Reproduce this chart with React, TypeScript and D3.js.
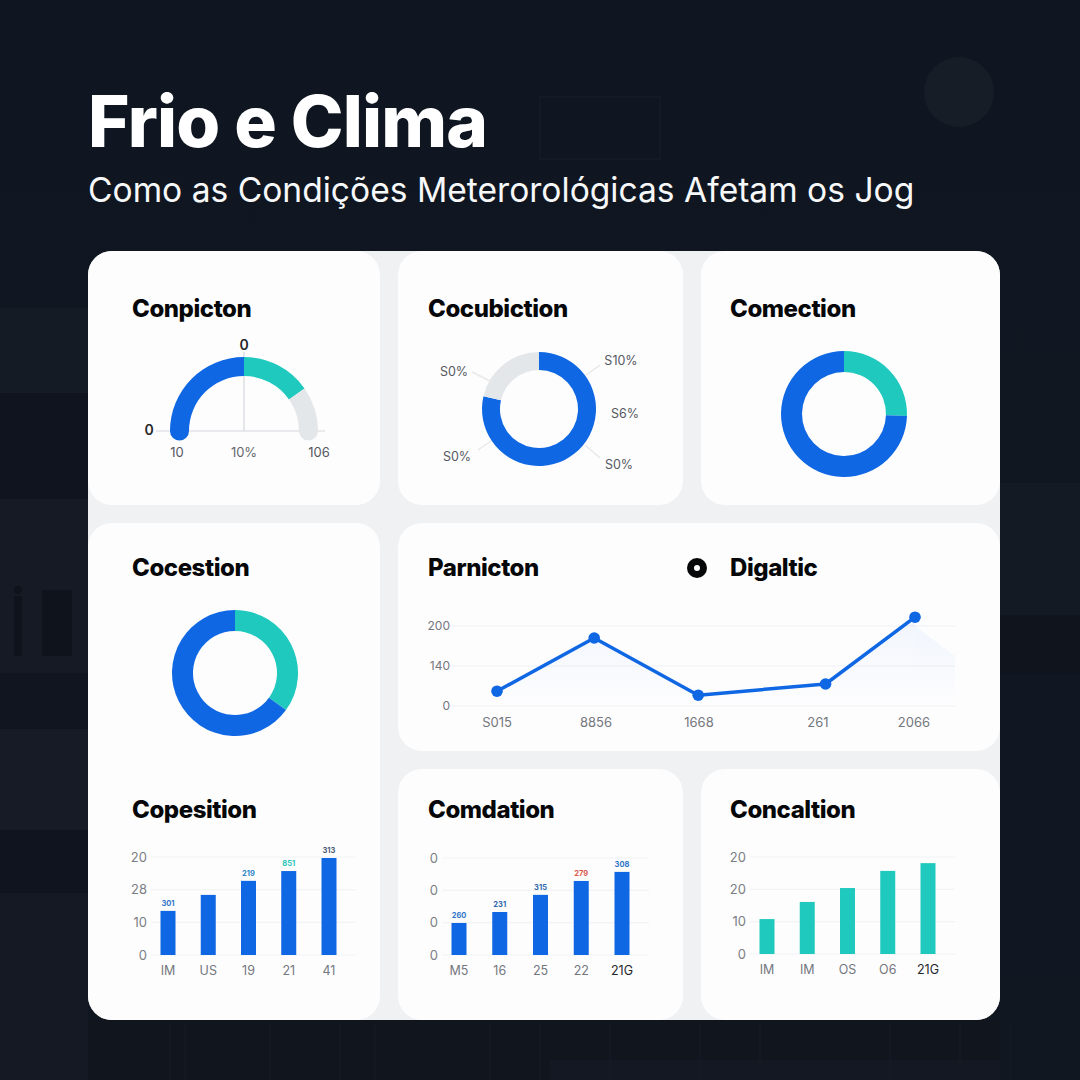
import * as d3 from "d3";

const BLUE = "#0f67e3";
const TEAL = "#1fc9be";
const GREY = "#e3e7ea";
const FONT = "Inter, sans-serif";

const gaugeValues = [50, 30.5, 19.5];
const gaugeColors = [BLUE, TEAL, GREY];

const donutA = [78.6, 21.4];
const donutB = [25.5, 74.5];
const donutC = [35, 65];

const lineLabels = ["S015", "8856", "1668", "261", "2066"];
const lineSteps = [0, 1, 2.07, 3.38, 4.3];
const lineValues = [37, 170, 27, 55, 222];
const lineTicks = [0, 100, 200];
const lineTickLabels = ["0", "140", "200"];

const barTicks = [0, 10, 20, 30];

const bars1Labels = ["IM", "US", "19", "21", "41"];
const bars1Values = [13.5, 18.4, 22.7, 25.7, 29.7];
const bars1Tops = ["301", "", "219", "851", "313"];
const bars1TopColors = ["#2f74c8", "", "#2f86c8", "#2cc4b8", "#4a5a78"];
const bars1Ticks = ["0", "10", "28", "20"];

const bars2Labels = ["M5", "16", "25", "22", "21G"];
const bars2Values = [9.9, 13.3, 18.6, 22.9, 25.7];
const bars2Tops = ["260", "231", "315", "279", "308"];
const bars2TopColors = ["#2f74c8", "#2f66a8", "#2f66a8", "#d8584a", "#2f74c8"];
const bars2Ticks = ["0", "0", "0", "0"];

const bars3Labels = ["IM", "IM", "OS", "O6", "21G"];
const bars3Values = [10.8, 16.1, 20.4, 25.7, 28.1];
const bars3Ticks = ["0", "10", "20", "20"];

const bgBands = [
  [0, 308, 88, 85, "#151b25"],
  [0, 393, 88, 106, "#0f141e"],
  [0, 499, 88, 174, "#151a25"],
  [0, 673, 88, 56, "#10151f"],
  [0, 729, 88, 101, "#161b25"],
  [0, 830, 88, 63, "#0f141e"],
  [0, 893, 88, 187, "#141924"],
  [1000, 483, 80, 132, "#141a24"],
  [1000, 615, 80, 58, "#0f141d"],
  [1000, 673, 80, 300, "#111722"],
  [88, 1020, 912, 60, "#10151e"],
  [550, 1060, 450, 20, "#131822"],
] as [number, number, number, number, string][];

const bgLines = [170, 185, 270, 340, 375, 490, 540, 610, 700, 760, 890, 960, 1010];

function Card({ x, y, w, h }: { x: number; y: number; w: number; h: number }) {
  return <rect x={x} y={y} width={w} height={h} rx={24} fill="#fdfdfe" />;
}

function Title({ x, y, text }: { x: number; y: number; text: string }) {
  return (
    <text x={x} y={y} fontFamily={FONT} fontSize={24} fontWeight={800} fill="#060709" letterSpacing={-0.45}>
      {text}
    </text>
  );
}

function Gauge({ cx, cy }: { cx: number; cy: number }) {
  const angle = d3.scaleLinear().domain([0, 100]).range([-Math.PI / 2, Math.PI / 2]);
  const pie = d3.pie<number>().sort(null).startAngle(angle(0)).endAngle(angle(100));
  const arc = d3.arc<d3.PieArcDatum<number>>().innerRadius(55).outerRadius(74);
  const arcs = pie(gaugeValues);
  return (
    <g transform={`translate(${cx},${cy})`}>
      <line x1={-88} x2={81} y1={0} y2={0} stroke="#d5d8dc" strokeWidth={1.2} />
      <line x1={0} x2={0} y1={-79} y2={0} stroke="#d5d8dc" strokeWidth={1.2} />
      <circle cx={64.5} cy={0} r={9.5} fill={GREY} />
      <circle cx={-64.5} cy={0} r={9.5} fill={BLUE} />
      {arcs.map((d, i) => (
        <path key={i} d={arc(d) || undefined} fill={gaugeColors[i]} />
      ))}
      <g fontFamily={FONT} textAnchor="middle">
        <text x={0} y={-81} fontSize={14} fontWeight={600} fill="#26282c">0</text>
        <text x={-95} y={4} fontSize={14} fontWeight={600} fill="#26282c">0</text>
        <text x={-67} y={26} fontSize={13} fill="#55585e">10</text>
        <text x={0} y={26} fontSize={13} fill="#66696f">10%</text>
        <text x={75} y={26} fontSize={13} fill="#55585e">106</text>
      </g>
    </g>
  );
}

function Donut({ cx, cy, outer, inner, values, colors }: {
  cx: number; cy: number; outer: number; inner: number; values: number[]; colors: string[];
}) {
  const arc = d3.arc<d3.PieArcDatum<number>>().innerRadius(inner).outerRadius(outer);
  const arcs = d3.pie<number>().sort(null)(values);
  return (
    <g transform={`translate(${cx},${cy})`}>
      {arcs.map((d, i) => (
        <path key={i} d={arc(d) || undefined} fill={colors[i]} />
      ))}
    </g>
  );
}

function LineChart() {
  const x = d3.scaleLinear().domain([0, 4.3]).range([497, 915]);
  const y = d3.scaleLinear().domain([0, 200]).range([706, 626]);
  const line = d3.line<number>().x((_, i) => x(lineSteps[i])).y((d) => y(d));
  const area = d3.area<number>().x((_, i) => x(lineSteps[i])).y0(y(0)).y1((d) => y(d));
  return (
    <g fontFamily={FONT}>
      <defs>
        <linearGradient id="lineFill" x1="0" y1="0" x2="0" y2="1">
          <stop offset="0" stopColor={BLUE} stopOpacity={0.05} />
          <stop offset="1" stopColor={BLUE} stopOpacity={0} />
        </linearGradient>
      </defs>
      {lineTicks.map((t, i) => (
        <g key={t}>
          <line x1={450} x2={955} y1={y(t)} y2={y(t)} stroke="#f0f1f3" strokeWidth={1.2} />
          <text x={450} y={y(t) + 4} textAnchor="end" fontSize={12} fill="#74777d">{lineTickLabels[i]}</text>
        </g>
      ))}
      <path d={area(lineValues) || undefined} fill="url(#lineFill)" />
      {/* the shading runs on past the last point and fades out */}
      <path d={`M${x(4.3)},${y(200)} L955,${y(125)} L955,${y(0)} L${x(4.3)},${y(0)} Z`} fill="url(#lineFill)" />
      <path d={line(lineValues) || undefined} fill="none" stroke={BLUE} strokeWidth={3.5} strokeLinejoin="round" />
      {lineValues.map((d, i) => (
        <circle key={i} cx={x(lineSteps[i])} cy={y(d)} r={5.8} fill={BLUE} />
      ))}
      {lineLabels.map((d, i) => (
        <text key={i} x={[497, 596, 699, 818, 914][i]} y={727} textAnchor="middle" fontSize={13} fill="#74777d">{d}</text>
      ))}
    </g>
  );
}

function Bars({ left, right, top, base, axisX, color, labels, values, tickLabels, tops, topColors, darkLast }: {
  left: number; right: number; top: number; base: number; axisX: number; color: string;
  labels: string[]; values: number[]; tickLabels: string[];
  tops?: string[]; topColors?: string[]; darkLast?: boolean;
}) {
  const x = d3.scalePoint<number>().domain(d3.range(values.length)).range([left, right]);
  const y = d3.scaleLinear().domain([0, 30]).range([base, top]);
  const bw = 15;
  return (
    <g fontFamily={FONT}>
      {barTicks.map((t, i) => (
        <g key={t}>
          <line x1={axisX + 4} x2={right + 27} y1={y(t)} y2={y(t)} stroke="#f2f3f5" strokeWidth={1.2} />
          <text x={axisX} y={y(t) + 4.5} textAnchor="end" fontSize={13} fill="#7b7e84">{tickLabels[i]}</text>
        </g>
      ))}
      {values.map((d, i) => (
        <rect key={i} x={(x(i) as number) - bw / 2} y={y(d)} width={bw} height={base - y(d)} fill={color} />
      ))}
      {tops && tops.map((d, i) => (
        <text key={i} x={x(i)} y={y(values[i]) - 5} textAnchor="middle" fontSize={7.5} fontWeight={700} fill={topColors ? topColors[i] : "#333"}>{d}</text>
      ))}
      {labels.map((d, i) => (
        <text key={i} x={x(i)} y={base + 20} textAnchor="middle" fontSize={12.5}
          fill={darkLast && i === labels.length - 1 ? "#25272b" : "#74777d"}>{d}</text>
      ))}
    </g>
  );
}

export default function App() {
  return (
    <svg width={1080} height={1080} style={{ position: "fixed", left: 0, top: 0, display: "block" }}>
      <defs>
        <linearGradient id="bgShade" x1="0" y1="0" x2="0" y2="1">
          <stop offset="0" stopColor="#0f1621" />
          <stop offset="1" stopColor="#111720" />
        </linearGradient>
      </defs>
      <rect width={1080} height={1080} fill="url(#bgShade)" />
      {bgBands.map((b, i) => (
        <rect key={i} x={b[0]} y={b[1]} width={b[2]} height={b[3]} fill={b[4]} />
      ))}
      <g stroke="#171c26" strokeWidth={1}>
        {bgLines.map((d) => (
          <line key={d} x1={d} x2={d} y1={1024} y2={1080} />
        ))}
      </g>
      <circle cx={959} cy={92} r={35} fill="#171d27" />
      <rect x={540} y={97} width={120} height={62} fill="none" stroke="#141a25" strokeWidth={2} />
      <g fill="#0e131c">
        <rect x={14} y={596} width={8} height={60} />
        <circle cx={18} cy={590} r={4} />
        <rect x={42} y={590} width={30} height={66} />
      </g>

      <text x={88} y={147} fontFamily={FONT} fontSize={71} fontWeight={800} fill="#fff" letterSpacing={-0.8}>Frio e Clima</text>
      <text x={88} y={202} fontFamily={FONT} fontSize={33.6} fontWeight={400} fill="#f7f8f9">Como as Condições Meterorológicas Afetam os Jog</text>

      <rect x={88} y={251} width={912} height={769} rx={24} fill="#eff1f3" />
      <Card x={88} y={251} w={292} h={254} />
      <Card x={398} y={251} w={285} h={254} />
      <Card x={701} y={251} w={299} h={254} />
      <Card x={88} y={523} w={292} h={497} />
      <Card x={398} y={523} w={602} h={228} />
      <Card x={398} y={769} w={285} h={251} />
      <Card x={701} y={769} w={299} h={251} />

      <Title x={132} y={317} text="Conpicton" />
      <Title x={428} y={317} text="Cocubiction" />
      <Title x={730} y={317} text="Comection" />
      <Title x={132} y={576} text="Cocestion" />
      <Title x={428} y={576} text="Parnicton" />
      <Title x={730} y={576} text="Digaltic" />
      <Title x={132} y={818} text="Copesition" />
      <Title x={428} y={818} text="Comdation" />
      <Title x={730} y={818} text="Concaltion" />

      <circle cx={697} cy={568} r={6.5} fill="#fff" stroke="#060709" strokeWidth={7} />

      <Gauge cx={244} cy={431} />

      <Donut cx={539} cy={409} outer={57} inner={39} values={donutA} colors={[BLUE, GREY]} />
      <g stroke="#e6e8ea" strokeWidth={1.5}>
        <line x1={586} y1={375} x2={600} y2={365} />
        <line x1={585} y1={445} x2={600} y2={458} />
        <line x1={490} y1={381} x2={472} y2={372} />
        <line x1={491} y1={441} x2={478} y2={450} />
      </g>
      <g fontFamily={FONT} fontSize={12.5} fill="#55585e" textAnchor="middle">
        <text x={621} y={365}>S10%</text>
        <text x={625} y={418}>S6%</text>
        <text x={619} y={469}>S0%</text>
        <text x={454} y={376}>S0%</text>
        <text x={457} y={461}>S0%</text>
      </g>

      <Donut cx={844} cy={414} outer={63} inner={42} values={donutB} colors={[TEAL, BLUE]} />
      <Donut cx={235} cy={673} outer={63} inner={42} values={donutC} colors={[TEAL, BLUE]} />

      <LineChart />

      <Bars left={168} right={329} top={857} base={955} axisX={147} color={BLUE}
        labels={bars1Labels} values={bars1Values} tickLabels={bars1Ticks} tops={bars1Tops} topColors={bars1TopColors} />
      <Bars left={459} right={622} top={858} base={955} axisX={438} color={BLUE}
        labels={bars2Labels} values={bars2Values} tickLabels={bars2Ticks} tops={bars2Tops} topColors={bars2TopColors} darkLast />
      <Bars left={767} right={928} top={857} base={954} axisX={746} color={TEAL}
        labels={bars3Labels} values={bars3Values} tickLabels={bars3Ticks} darkLast />
    </svg>
  );
}
